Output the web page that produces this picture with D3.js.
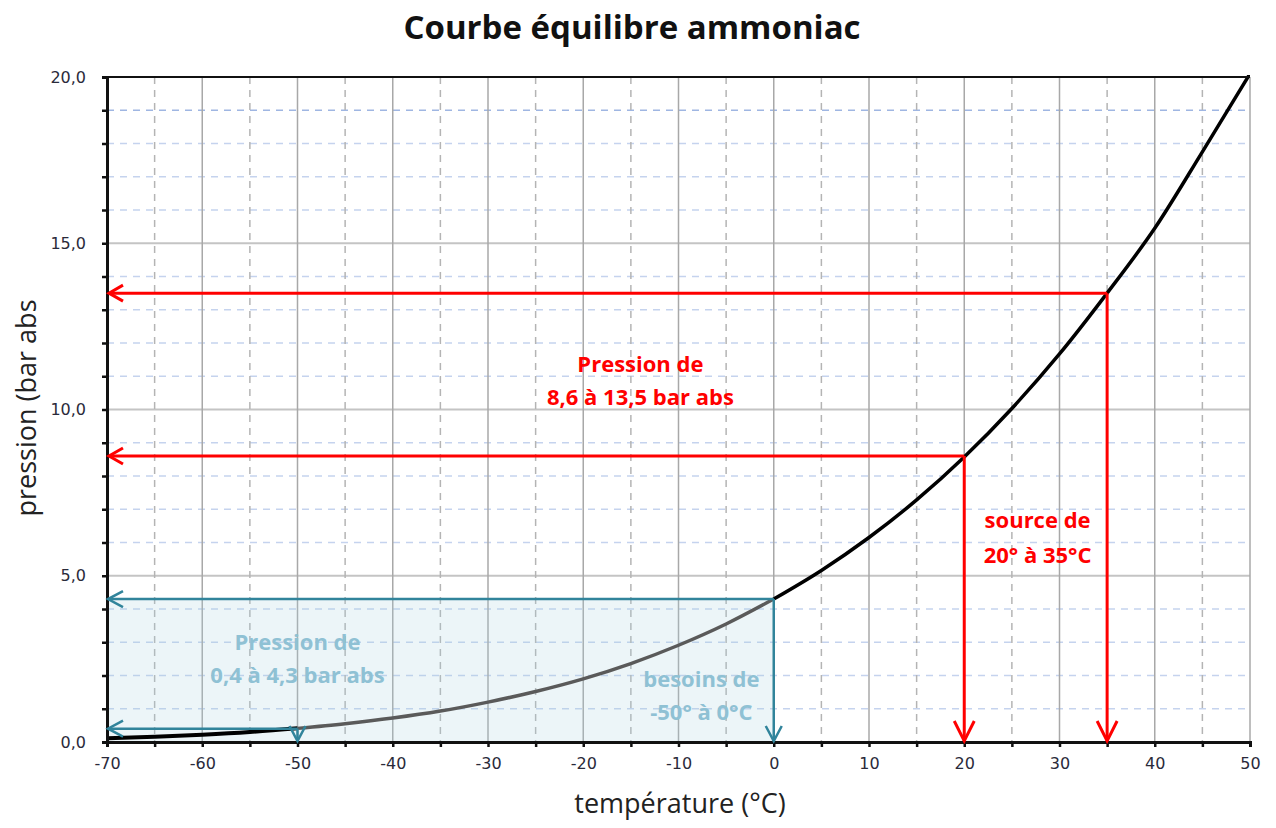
<!DOCTYPE html>
<html><head><meta charset="utf-8">
<script src="https://cdn.jsdelivr.net/npm/d3@7"></script>
<style>
body{margin:0;background:#fff;}
text{font-family:"Open Sans",sans-serif;}
</style></head>
<body><svg id="c" width="1276" height="828"></svg>
<script>
// Data
const temps = [-70,-65,-60,-55,-50,-45,-40,-35,-30,-25,-20,-15,-10,-5,0,5,10,15,20,25,30,35,40,45,50];
const pressures = [0.11,0.16,0.22,0.30,0.41,0.55,0.72,0.93,1.20,1.52,1.90,2.36,2.91,3.55,4.30,5.16,6.15,7.28,8.57,10.03,11.67,13.50,15.45,17.75,20.1];
const xTickLabels = [-70,-60,-50,-40,-30,-20,-10,0,10,20,30,40,50];
const yTickLabels = ["0,0","5,0","10,0","15,0","20,0"];
const sourceTemps = [20,35];
const sourcePress = [8.6,13.5];
const needTemps = [-50,0];
const needPress = [0.4,4.3];

const svg = d3.select("#c");
const L=107, T=77, W=1143, H=665;
const x = d3.scaleLinear().domain([-70,50]).range([L,L+W]);
const y = d3.scaleLinear().domain([0,20]).range([T+H,T]);

// Title
svg.append("text").attr("x",632).attr("y",39).attr("text-anchor","middle")
  .style("font-size","33px").style("font-weight","700").attr("fill","#111").text("Courbe équilibre ammoniac");

const g = svg.append("g");
// horizontal minor grid
d3.range(1,20).filter(v=>v%5!==0).forEach(v=>{
  g.append("line").attr("x1",L).attr("x2",L+W).attr("y1",y(v)).attr("y2",y(v))
   .attr("stroke", v===19?"#9fb6e2":"#c5d3ee").attr("stroke-width",1.5).attr("stroke-dasharray","7,6");
});
// horizontal major grid
[5,10,15].forEach(v=>{
  g.append("line").attr("x1",L).attr("x2",L+W).attr("y1",y(v)).attr("y2",y(v))
   .attr("stroke","#c4c4c4").attr("stroke-width",2);
});
// vertical minor grid
d3.range(-65,50,10).forEach(v=>{
  g.append("line").attr("x1",x(v)).attr("x2",x(v)).attr("y1",T).attr("y2",T+H)
   .attr("stroke","#b4b4b4").attr("stroke-width",1.5).attr("stroke-dasharray","7,6");
});
// vertical major grid
d3.range(-60,51,10).forEach(v=>{
  g.append("line").attr("x1",x(v)).attr("x2",x(v)).attr("y1",T).attr("y2",T+H)
   .attr("stroke","#a8a8a8").attr("stroke-width",1.5);
});

// blue shaded zone
svg.append("rect").attr("x",x(-70)).attr("y",y(needPress[1])).attr("width",x(needTemps[1])-x(-70))
  .attr("height",y(0)-y(needPress[1])).attr("fill","rgba(170,210,225,0.22)");

// curve
const data = temps.map((t,i)=>({t,p:pressures[i]}));
svg.append("clipPath").attr("id","clip").append("rect").attr("x",L).attr("y",T-2).attr("width",W).attr("height",H+2);
const line = d3.line().x(d=>x(d.t)).y(d=>y(d.p)).curve(d3.curveMonotoneX);
const cg = svg.append("g").attr("clip-path","url(#clip)");
cg.append("path").datum(data.filter(d=>d.t<=needTemps[0])).attr("d",line).attr("fill","none").attr("stroke","#000").attr("stroke-width",4);
cg.append("path").datum(data.filter(d=>d.t>=needTemps[0]&&d.t<=needTemps[1])).attr("d",line).attr("fill","none").attr("stroke","#5a5a5a").attr("stroke-width",3.5);
cg.append("path").datum(data.filter(d=>d.t>=needTemps[1])).attr("d",line).attr("fill","none").attr("stroke","#000").attr("stroke-width",3.5);

// Axes
svg.append("line").attr("x1",L).attr("x2",L+W).attr("y1",T).attr("y2",T).attr("stroke","#111").attr("stroke-width",2);
const xAxis = d3.axisBottom(x).tickValues(d3.range(-70,51,5)).tickSize(5).tickFormat(d=>xTickLabels.includes(d)?d:"");
const xa = svg.append("g").attr("transform",`translate(0,${T+H})`).call(xAxis);
xa.select(".domain").attr("stroke","#111").attr("stroke-width",3);
xa.selectAll(".tick line").attr("stroke","#111").attr("stroke-width",2.5);
xa.selectAll(".tick text").attr("dy","1.2em").style("font-family","'DejaVu Sans',sans-serif").style("font-size","16px").attr("fill","#2a2a3a");
const yAxis = d3.axisLeft(y).tickValues(d3.range(0,21,1)).tickSize(5).tickFormat(d=>d%5===0?yTickLabels[d/5]:"");
const ya = svg.append("g").attr("transform",`translate(${L},0)`).call(yAxis);
ya.select(".domain").attr("stroke","#111").attr("stroke-width",3);
ya.selectAll(".tick line").attr("stroke","#111").attr("stroke-width",2.5);
ya.selectAll(".tick text").attr("x",-21).style("font-family","'DejaVu Sans',sans-serif").style("font-size","16px").attr("fill","#2a2a3a");

// arrows
function arrow(x1,y1,x2,y2,color,w,len,half){
  svg.append("line").attr("x1",x1).attr("y1",y1).attr("x2",x2).attr("y2",y2).attr("stroke",color).attr("stroke-width",w);
  const a=Math.atan2(y2-y1,x2-x1);
  const px=-Math.sin(a), py=Math.cos(a);
  const bx=x2-Math.cos(a)*len, by=y2-Math.sin(a)*len;
  svg.append("path").attr("d",`M${bx+px*half},${by+py*half}L${x2},${y2}L${bx-px*half},${by-py*half}`)
    .attr("fill","none").attr("stroke",color).attr("stroke-width",w).attr("stroke-linejoin","miter");
}
const blue="#31849b", red="#ff0000";
needTemps.forEach((t,i)=>{
  arrow(x(t),y(needPress[i]),x(-70)+1,y(needPress[i]),blue,2.5,15,8);
  arrow(x(t),y(needPress[i]),x(t),y(0)-1,blue,2.5,15,8);
});
sourceTemps.forEach((t,i)=>{
  arrow(x(t),y(sourcePress[i]),x(-70)+2,y(sourcePress[i]),red,3,14,8);
  arrow(x(t),y(sourcePress[i]),x(t),y(0)-1,red,3,20,10);
});

// annotations
function label(lines,cx,y0,color,dy){
  lines.forEach((s,i)=>svg.append("text").attr("x",cx).attr("y",y0+i*dy).attr("text-anchor","middle")
    .style("font-size","22px").style("font-weight","700").attr("fill",color).text(s));
}
label(["Pression de","8,6 à 13,5 bar abs"],x(-14),372,red,33);
label(["source de","20° à 35°C"],x(27.7),528,red,35);
label(["Pression de","0,4 à 4,3 bar abs"],x(-50),650,"#8fc1d4",33);
label(["besoins de","-50° à 0°C"],x(-7.6),687,"#8fc1d4",33);

// axis titles
svg.append("text").attr("x",680).attr("y",813).attr("text-anchor","middle").style("font-size","27px").attr("fill","#222").text("température (°C)");
svg.append("text").attr("transform","translate(36,408) rotate(-90)").attr("text-anchor","middle").style("font-size","27px").attr("fill","#222").text("pression (bar abs");
</script></body></html>
